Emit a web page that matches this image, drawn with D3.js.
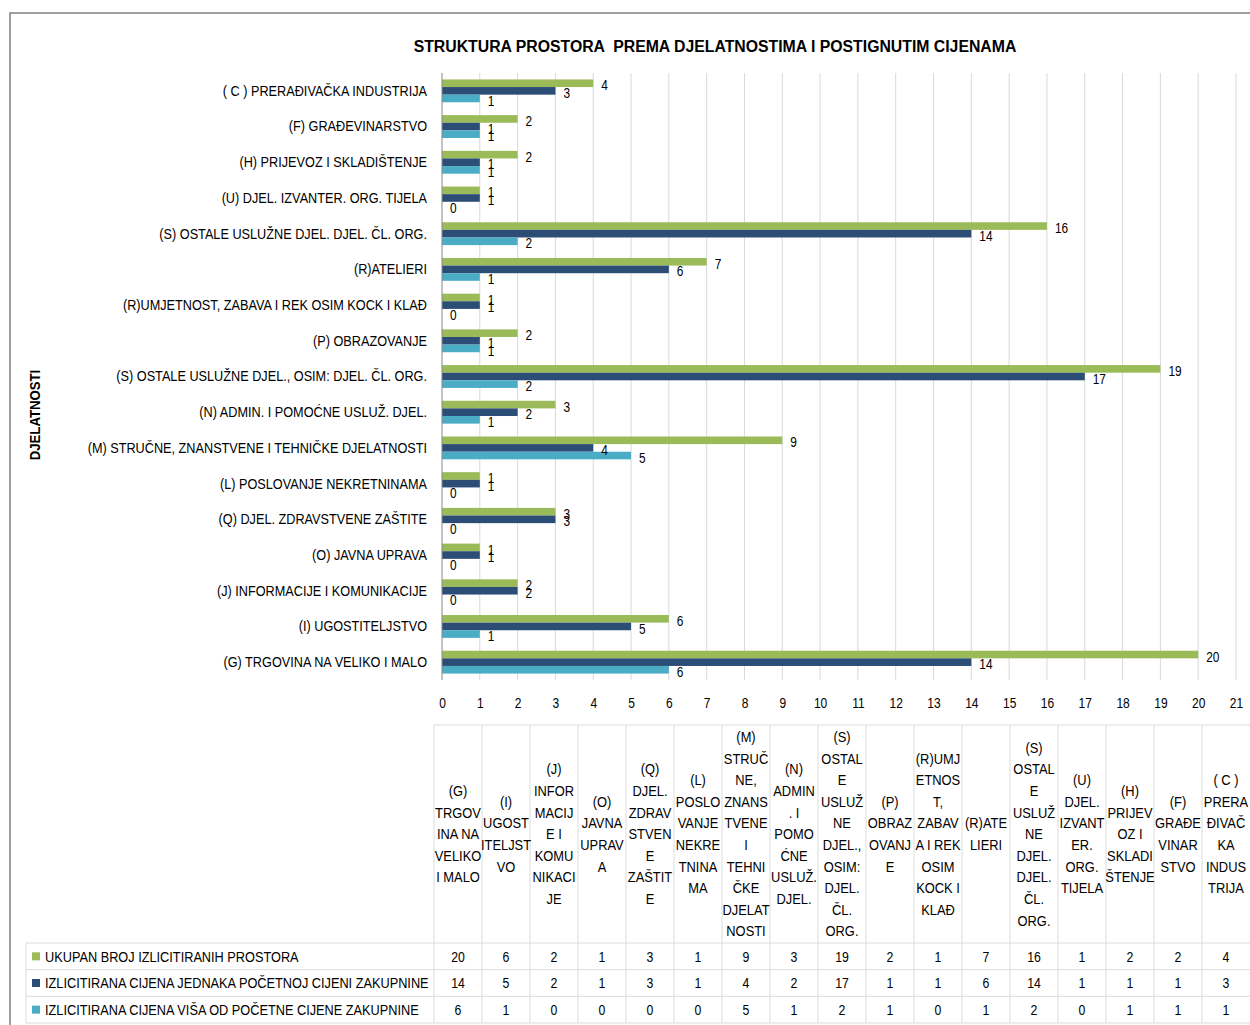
<!DOCTYPE html>
<html>
<head>
<meta charset="utf-8">
<script src="https://d3js.org/d3.v7.min.js"></script>
<style>
  body{ margin:0; background:#fff; }
  text{ font-family:"Liberation Sans", Arial, sans-serif; fill:#000; }
  .grid line{ stroke:#d9d9d9; stroke-width:1; }
  .cell line{ stroke:#dcdcdc; stroke-width:1; }
</style>
</head>
<body>
<div id="chart"></div>
<script>
  // categories in the order of the data table (chart shows them reversed)
  var categories = [
    "(G) TRGOVINA NA VELIKO I MALO",
    "(I) UGOSTITELJSTVO",
    "(J) INFORMACIJE I KOMUNIKACIJE",
    "(O) JAVNA UPRAVA",
    "(Q) DJEL. ZDRAVSTVENE ZAŠTITE",
    "(L) POSLOVANJE NEKRETNINAMA",
    "(M) STRUČNE, ZNANSTVENE I TEHNIČKE DJELATNOSTI",
    "(N) ADMIN. I POMOĆNE USLUŽ. DJEL.",
    "(S) OSTALE USLUŽNE DJEL., OSIM: DJEL. ČL. ORG.",
    "(P) OBRAZOVANJE",
    "(R)UMJETNOST, ZABAVA I REK OSIM KOCK I KLAĐ",
    "(R)ATELIERI",
    "(S) OSTALE USLUŽNE DJEL. DJEL. ČL. ORG.",
    "(U) DJEL. IZVANTER. ORG. TIJELA",
    "(H) PRIJEVOZ I SKLADIŠTENJE",
    "(F) GRAĐEVINARSTVO",
    "( C ) PRERAĐIVAČKA INDUSTRIJA"
  ];

  // wrapped column headers as they appear in the table
  var headerLines = [
    ["(G)", "TRGOV", "INA NA", "VELIKO", "I MALO"],
    ["(I)", "UGOST", "ITELJST", "VO"],
    ["(J)", "INFOR", "MACIJ", "E I", "KOMU", "NIKACI", "JE"],
    ["(O)", "JAVNA", "UPRAV", "A"],
    ["(Q)", "DJEL.", "ZDRAV", "STVEN", "E", "ZAŠTIT", "E"],
    ["(L)", "POSLO", "VANJE", "NEKRE", "TNINA", "MA"],
    ["(M)", "STRUČ", "NE,", "ZNANS", "TVENE", "I", "TEHNI", "ČKE", "DJELAT", "NOSTI"],
    ["(N)", "ADMIN", ". I", "POMO", "ĆNE", "USLUŽ.", "DJEL."],
    ["(S)", "OSTAL", "E", "USLUŽ", "NE", "DJEL.,", "OSIM:", "DJEL.", "ČL.", "ORG."],
    ["(P)", "OBRAZ", "OVANJ", "E"],
    ["(R)UMJ", "ETNOS", "T,", "ZABAV", "A I REK", "OSIM", "KOCK I", "KLAĐ"],
    ["(R)ATE", "LIERI"],
    ["(S)", "OSTAL", "E", "USLUŽ", "NE", "DJEL.", "DJEL.", "ČL.", "ORG."],
    ["(U)", "DJEL.", "IZVANT", "ER.", "ORG.", "TIJELA"],
    ["(H)", "PRIJEV", "OZ I", "SKLADI", "ŠTENJE"],
    ["(F)", "GRAĐE", "VINAR", "STVO"],
    ["( C )", "PRERA", "ĐIVAČ", "KA", "INDUS", "TRIJA"]
  ];

  var seriesNames = [
    "UKUPAN BROJ IZLICITIRANIH PROSTORA",
    "IZLICITIRANA CIJENA JEDNAKA POČETNOJ CIJENI ZAKUPNINE",
    "IZLICITIRANA CIJENA VIŠA OD POČETNE CIJENE ZAKUPNINE"
  ];

  var ukupan  = [20, 6, 2, 1, 3, 1, 9, 3, 19, 2, 1, 7, 16, 1, 2, 2, 4];
  var jednaka = [14, 5, 2, 1, 3, 1, 4, 2, 17, 1, 1, 6, 14, 1, 1, 1, 3];
  var visa    = [ 6, 1, 0, 0, 0, 0, 5, 1,  2, 1, 0, 1,  2, 0, 1, 1, 1];

  var xTicks = [0, 1, 2, 3, 4, 5, 6, 7, 8, 9, 10, 11, 12, 13, 14, 15, 16, 17, 18, 19, 20, 21];

  var colors = ["#9BBB59", "#2C4D75", "#4BACC6"];
  var chartTitle = "STRUKTURA PROSTORA  PREMA DJELATNOSTIMA I POSTIGNUTIM CIJENAMA";
  var axisTitle = "DJELATNOSTI";

  var series = [ukupan, jednaka, visa];

  var W = 1250, H = 1025;
  var plot = { left: 442, right: 1236, top: 73, bottom: 680 };
  var table = { left: 26, colLeft: 434, right: 1250, top: 725, head: 943, bottom: 1023 };

  var svg = d3.select("#chart").append("svg")
    .attr("width", W)
    .attr("height", H);

  // squeezed text (source font is a narrow one)
  function put(g, x, y, str, k, anchor) {
    return g.append("text")
      .attr("transform", "translate(" + x + "," + y + ") scale(" + k + ",1)")
      .attr("text-anchor", anchor || "start")
      .attr("dy", "0.35em")
      .text(str);
  }

  // outer frame
  svg.append("path")
    .attr("d", "M10," + H + "V13H" + W)
    .attr("fill", "none")
    .attr("stroke", "#808080")
    .attr("stroke-width", 1.5);

  // title
  put(svg, 715, 46, chartTitle, 1.0, "middle")
    .style("font-size", "15.8px")
    .style("font-weight", "bold")
    .style("white-space", "pre");

  // axis title
  svg.append("text")
    .attr("transform", "translate(35,415) rotate(-90) scale(0.88,1)")
    .attr("text-anchor", "middle")
    .attr("dy", "0.35em")
    .style("font-size", "15px")
    .style("font-weight", "bold")
    .text(axisTitle);

  var x = d3.scaleLinear().domain([0, 21]).range([plot.left, plot.right]);
  var y = d3.scaleBand()
    .domain(categories.slice().reverse())
    .range([plot.top, plot.bottom])
    .paddingInner(0.36)
    .paddingOuter(0.18);
  var yInner = d3.scaleBand().domain([0, 1, 2]).range([0, y.bandwidth()]);

  // gridlines
  svg.append("g").attr("class", "grid")
    .selectAll("line")
    .data(xTicks.slice(1))
    .enter().append("line")
    .attr("x1", function(d){ return x(d); })
    .attr("x2", function(d){ return x(d); })
    .attr("y1", plot.top)
    .attr("y2", plot.bottom);

  // bars
  var rows = categories.map(function(c, i){
    return { cat: c, vals: series.map(function(s){ return s[i]; }) };
  });

  var groups = svg.append("g").selectAll("g")
    .data(rows)
    .enter().append("g")
    .attr("transform", function(d){ return "translate(0," + y(d.cat) + ")"; });

  groups.selectAll("rect")
    .data(function(d){ return d.vals; })
    .enter().append("rect")
    .attr("x", x(0))
    .attr("y", function(d, i){ return yInner(i); })
    .attr("width", function(d){ return x(d) - x(0); })
    .attr("height", yInner.bandwidth())
    .attr("fill", function(d, i){ return colors[i]; });

  groups.each(function(d){
    var g = d3.select(this);
    d.vals.forEach(function(v, i){
      put(g, x(v) + 8, yInner(i) + yInner.bandwidth() / 2 + 2, v, 0.82)
        .style("font-size", "14.5px");
    });
  });

  // axis line
  svg.append("line")
    .attr("x1", plot.left).attr("x2", plot.left)
    .attr("y1", plot.top).attr("y2", plot.bottom)
    .attr("stroke", "#868686");

  // category labels
  var gy = svg.append("g")
    .attr("transform", "translate(" + plot.left + ",0)")
    .call(d3.axisLeft(y).tickSize(0).tickPadding(15));
  gy.select(".domain").remove();
  gy.selectAll("text")
    .attr("x", -15 / 0.83)
    .attr("transform", "scale(0.83,1)")
    .style("font-family", "'Liberation Sans', Arial, sans-serif")
    .style("font-size", "15.3px")
    .attr("fill", "#000");

  // x tick labels
  var gx = svg.append("g")
    .attr("transform", "translate(0," + plot.bottom + ")")
    .call(d3.axisBottom(x).tickValues(xTicks).tickFormat(d3.format("d")).tickSize(0).tickPadding(17));
  gx.select(".domain").remove();
  gx.selectAll("text")
    .attr("transform", "scale(0.8,1)")
    .style("font-family", "'Liberation Sans', Arial, sans-serif")
    .style("font-size", "15px")
    .attr("fill", "#000");

  // data table
  var col = d3.scaleBand().domain(categories).range([table.colLeft, table.right]);
  var row = d3.scaleBand().domain(seriesNames).range([table.head, table.bottom]);
  var cell = svg.append("g").attr("class", "cell");

  cell.append("line")
    .attr("x1", table.colLeft).attr("x2", table.right)
    .attr("y1", table.top).attr("y2", table.top);
  cell.selectAll(".hl")
    .data([table.head].concat(seriesNames.map(function(s){ return row(s) + row.bandwidth(); })))
    .enter().append("line")
    .attr("x1", table.left).attr("x2", table.right)
    .attr("y1", function(d){ return d; })
    .attr("y2", function(d){ return d; });
  cell.selectAll(".vl")
    .data(categories)
    .enter().append("line")
    .attr("x1", function(d){ return col(d); })
    .attr("x2", function(d){ return col(d); })
    .attr("y1", table.top)
    .attr("y2", table.bottom);
  cell.append("line")
    .attr("x1", table.left).attr("x2", table.left)
    .attr("y1", table.head).attr("y2", table.bottom);

  // header text
  var lineH = 21.6;
  var headMid = (table.top + table.head) / 2;
  categories.forEach(function(c, i){
    var lines = headerLines[i];
    var cx = col(c) + col.bandwidth() / 2;
    lines.forEach(function(t, j){
      put(svg, cx, headMid + (j - (lines.length - 1) / 2) * lineH, t, 0.86, "middle")
        .style("font-size", "15px");
    });
  });

  // legend rows + values
  seriesNames.forEach(function(s, si){
    var cy = row(s) + row.bandwidth() / 2;
    svg.append("rect")
      .attr("x", 32).attr("y", cy - 4)
      .attr("width", 8).attr("height", 8)
      .attr("fill", colors[si]);
    put(svg, 45, cy, s, 0.85).style("font-size", "15px");
    categories.forEach(function(c, i){
      put(svg, col(c) + col.bandwidth() / 2, cy, series[si][i], 0.82, "middle")
        .style("font-size", "15px");
    });
  });
</script>
</body>
</html>
